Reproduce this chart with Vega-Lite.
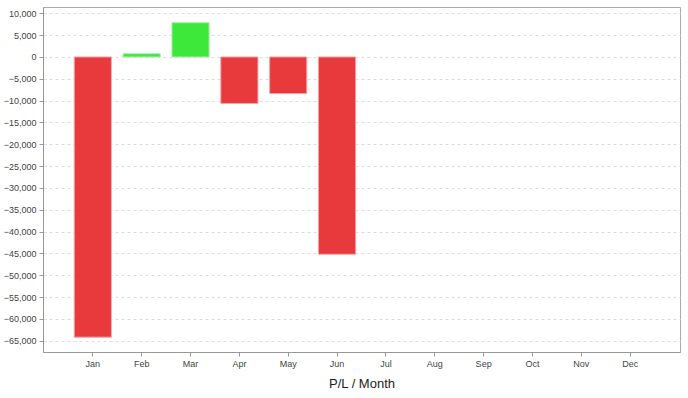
{
  "$schema": "https://vega.github.io/schema/vega-lite/v6.json",
  "width": 637,
  "height": 345,
  "autosize": {"type": "none"},
  "padding": {"left": 43, "top": 7, "right": 8, "bottom": 46},
  "background": "white",
  "config": {
    "view": {"stroke": "#aaaaaa", "strokeWidth": 1},
    "font": "Liberation Sans",
    "axis": {
      "domainColor": "#999999",
      "tickColor": "#999999",
      "tickSize": 4,
      "labelColor": "#444444",
      "labelFont": "Liberation Sans",
      "labelFontSize": 9,
      "titleColor": "#222222",
      "titleFont": "Liberation Sans",
      "titleFontWeight": "normal"
    }
  },
  "data": {
    "values": [
      {"month": "Jan", "pl": -64200, "sign": "loss"},
      {"month": "Feb", "pl": 750, "sign": "profit"},
      {"month": "Mar", "pl": 7850, "sign": "profit"},
      {"month": "Apr", "pl": -10650, "sign": "loss"},
      {"month": "May", "pl": -8380, "sign": "loss"},
      {"month": "Jun", "pl": -45200, "sign": "loss"}
    ]
  },
  "mark": {"type": "bar", "strokeWidth": 1},
  "encoding": {
    "x": {
      "field": "month",
      "type": "nominal",
      "scale": {
        "domain": ["Jan", "Feb", "Mar", "Apr", "May", "Jun", "Jul", "Aug", "Sep", "Oct", "Nov", "Dec"],
        "paddingInner": 0.24,
        "paddingOuter": 0.64
      },
      "axis": {
        "title": "P/L / Month",
        "titleFontSize": 13,
        "titlePadding": 9,
        "labelAngle": 0,
        "labelPadding": 3,
        "grid": false
      }
    },
    "y": {
      "field": "pl",
      "type": "quantitative",
      "scale": {"domain": [-67600, 11450], "nice": false, "zero": false},
      "axis": {
        "title": null,
        "format": ",d",
        "values": [10000, 5000, 0, -5000, -10000, -15000, -20000, -25000, -30000, -35000, -40000, -45000, -50000, -55000, -60000, -65000],
        "labelPadding": 3,
        "grid": true,
        "gridColor": "#dddddd",
        "gridDash": [3, 3]
      }
    },
    "color": {
      "field": "sign",
      "type": "nominal",
      "scale": {"domain": ["loss", "profit"], "range": ["#e8393d", "#3de83a"]},
      "legend": null
    },
    "stroke": {
      "field": "sign",
      "type": "nominal",
      "scale": {"domain": ["loss", "profit"], "range": ["#f3a3a5", "#a6f0a4"]},
      "legend": null
    }
  }
}
